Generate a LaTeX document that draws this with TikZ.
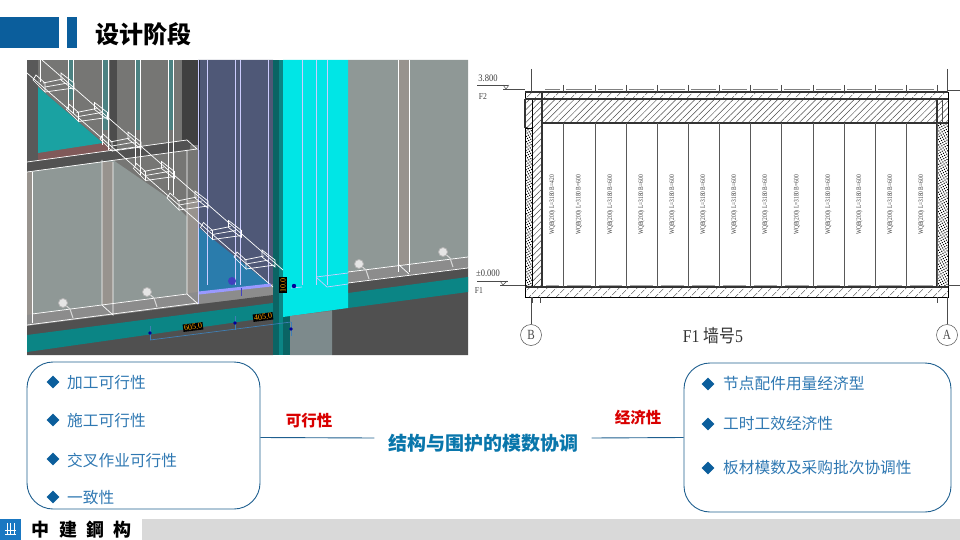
\documentclass[tikz,border=0pt]{standalone}
\usepackage{fontspec}
\setmainfont{Liberation Serif}
\newfontfamily\cjk{Noto Sans CJK SC}
\usetikzlibrary{patterns.meta,shapes.geometric}
\definecolor{themeblue}{HTML}{0B5E9C}
\definecolor{itemblue}{HTML}{2F78B2}
\definecolor{boxblue}{HTML}{1F5F8F}
\definecolor{wallgray}{HTML}{767674}
\definecolor{panelgray}{HTML}{8F9896}
\definecolor{stripgray}{HTML}{98938E}
\definecolor{navy}{HTML}{4F5877}
\definecolor{bandteal}{HTML}{0B8585}
\definecolor{floordark}{HTML}{505050}
\definecolor{columncyan}{HTML}{00E6E6}
\definecolor{columnteal}{HTML}{0A6464}
\definecolor{columnfoot}{HTML}{7D8A8C}
\definecolor{triangleblue}{HTML}{2A7CAC}
\definecolor{trianglegreen}{HTML}{1AA2A2}
\definecolor{footblue}{HTML}{1A78C2}
\definecolor{dimblue}{HTML}{3F7FB5}
\tikzset{
	titlefont/.style={font=\cjk\bfseries\fontsize{24}{24}\selectfont},
	listbox/.style={draw=boxblue, line width=0.9pt, rounded corners=26pt, inner sep=0pt},
	itemtext/.style={anchor=west, inner sep=0pt, text=itemblue, font=\cjk\fontsize{15.7}{16}\selectfont},
	itemmark/.style={diamond, fill=themeblue, minimum size=13pt, inner sep=0pt},
	redlabel/.style={inner sep=0pt, text=red!85!black, font=\cjk\bfseries\fontsize{15.5}{16}\selectfont},
	link/.style={draw=boxblue, line width=0.9pt},
	panelline/.style={draw=white, line width=0.7pt},
	sideline/.style={draw=white!80!blue, line width=0.7pt},
	dimtag/.style={fill=black, text=orange!70!yellow, inner sep=1pt, font=\fontsize{8}{8}\selectfont},
	cadline/.style={draw=black!80, line width=1.5pt},
	cadthin/.style={draw=black!70, line width=0.5pt},
	cadtext/.style={inner sep=0pt, text=black!75, font=\fontsize{9}{9}\selectfont},
	wallhatch/.style={pattern={Lines[angle=45,distance=4.5pt,line width=0.5pt]}, pattern color=black!70},
	slabhatch/.style={pattern={Lines[angle=45,distance=6.5pt,line width=0.5pt]}, pattern color=black!70},
	concrete/.style={pattern={Dots[radius=0.75pt,distance=2.4pt,angle=30]}, pattern color=black},
}
% one bracket on the diagonal slab
\def\slabbracket(#1,#2){
	\begin{scope}[shift={(#1,#2)}]
		\draw[panelline] (0, 7) -- (3, 2) -- (12, 10) -- (12, 19) -- cycle;
		\draw[panelline] (28, 0) -- (41, 10) -- (41, 17) -- (28, 7) -- cycle;
		\draw[panelline] (10, 10) -- (30, 6);
		\draw[panelline] (12, 14) -- (35, 10);
		\draw[panelline] (12, 19) -- (41, 15);
	\end{scope}
}
% one knob on the wall
\def\wallknob(#1,#2){
	\draw[draw=white!85!black, line width=1pt] (#1, #2) -- (#1+7, #2+6) -- (#1+10, #2+15);
	\draw[draw=white!70!black, fill=white!90!black, line width=0.8pt] (#1, #2) circle (4.5);
}

\begin{document}
\begin{tikzpicture}[x=1pt, y=-1pt]
		\useasboundingbox (0, 0) rectangle (960, 540);
		
		%%%%% HEADER %%%%%
		
		\fill[themeblue] (0, 17) rectangle (59, 48);
		\fill[themeblue] (67, 17) rectangle (77, 48);
		\node[titlefont, anchor=west, inner sep=0pt] (title) at (95, 34) {设计阶段};
		
		%%%%% MODEL VIEW %%%%%
		
		\begin{scope}
			\clip (27, 60) rectangle (468, 355);
			\fill[wallgray] (27, 60) rectangle (468, 355);
			\fill[black!65] (27, 60) rectangle (38, 165);
			\fill[black!70] (110, 60) rectangle (117, 150);
			\fill[black!75] (182, 60) rectangle (198, 145);
			\fill[teal!60!black!70] (68, 60) rectangle (73, 100);
			\fill[teal!60!black!70] (102, 60) rectangle (108, 130);
			\fill[teal!60!black!70] (135, 60) rectangle (140, 130);
			\fill[teal!60!black!70] (168, 60) rectangle (173, 130);
			
			% teal triangle
			\fill[black!50!red!30!gray] (38, 87) -- (112, 150) -- (38, 162) -- cycle;
			\fill[trianglegreen] (38, 87) -- (103, 143) -- (38, 153) -- cycle;
			
			% dark band and panels below it
			\fill[black!68] (27, 162) -- (190, 140) -- (190, 150) -- (27, 172) -- cycle;
			\fill[panelgray] (27, 172) -- (113, 160) -- (167, 197) -- (187, 217) -- (187, 300) -- (27, 320) -- cycle;
			\fill[stripgray] (102, 162) rectangle (113, 312);
			\fill[stripgray] (187, 200) rectangle (198, 304);
			\fill[stripgray] (27, 172) rectangle (32, 322);
			
			% navy panel and blue triangle
			\fill[navy] (198, 60) -- (273, 60) -- (273, 290) -- (198, 230) -- cycle;
			\fill[black!50!navy] (198, 60) rectangle (200, 150);
			\fill[triangleblue] (199, 228) -- (273, 287) -- (199, 294) -- cycle;
			
			% sill, band and floor
			\fill[black!45] (27, 315) -- (198, 292) -- (273, 284) -- (273, 296) -- (198, 304) -- (27, 326) -- cycle;
			\fill[floordark] (27, 326) -- (273, 295) -- (273, 355) -- (27, 355) -- cycle;
			\fill[bandteal] (27, 335) -- (273, 303) -- (273, 317) -- (27, 352) -- cycle;
			\fill[black!45] (348, 272) -- (468, 257) -- (468, 268) -- (348, 283) -- cycle;
			\fill[panelgray] (348, 60) -- (468, 60) -- (468, 257) -- (348, 272) -- cycle;
			\fill[stripgray] (398, 60) rectangle (409, 265);
			\fill[floordark] (348, 283) -- (468, 268) -- (468, 355) -- (332, 355) -- (332, 300) -- cycle;
			\fill[bandteal] (348, 293) -- (468, 277) -- (468, 292) -- (348, 308) -- cycle;
			
			% cyan column
			\fill[columnteal] (273, 60) rectangle (290, 355);
			\fill[bandteal] (279, 60) rectangle (283, 355);
			\fill[columncyan] (283, 60) -- (348, 60) -- (348, 308) -- (283, 317) -- cycle;
			\fill[columnfoot] (290, 316) -- (332, 311) -- (332, 355) -- (290, 355) -- cycle;
			
			% white edges
			\foreach \xpos/\yend in {68/110, 73/113, 102/145, 108/150, 135/165, 140/175, 168/190, 173/195}
				\draw[panelline] (\xpos, 60) -- (\xpos, \yend);
			\foreach \xpos in {207, 235, 240, 268, 302, 316, 327}
				\draw[sideline] (\xpos, 60) -- (\xpos, 285);
			\foreach \xpos in {398, 409}
				\draw[panelline] (\xpos, 60) -- (\xpos, 272);
			\draw[sideline] (198, 60) -- (198, 304);
			\draw[panelline] (40, 60) -- (40, 82);
			\draw[panelline] (32, 172) -- (32, 323);
			\draw[panelline] (102, 160) -- (102, 305) -- (113, 315) -- (113, 162);
			\draw[panelline] (187, 150) -- (187, 294) -- (198, 304);
			\draw[panelline] (27, 162) -- (187, 140) -- (197, 149) -- (27, 172);
			\draw[panelline] (42, 60) -- (283, 270);
			\draw[panelline] (27, 73) -- (273, 287);
			\draw[panelline] (32, 314) -- (187, 294);
			\draw[panelline] (27, 325) -- (198, 303);
			\draw[panelline] (348, 272) -- (468, 257);
			\draw[panelline] (348, 283) -- (468, 268);
			\draw[panelline] (398, 264) -- (409, 274);
			\draw[sideline] (316, 277) -- (327, 287) -- (348, 284);
			\draw[sideline] (316, 277) -- (348, 273);
			\draw[sideline] (302, 287) -- (291, 288);
			\foreach \k in {0, ..., 6} {
				\slabbracket(33+33.5*\k, 73+29.5*\k)
			}
			
			% lavender stripe and knobs
			\draw[draw=blue!40!white, line width=3pt] (199, 293) -- (271, 285);
			\fill[blue!50!gray] (232, 281) circle (4);
			\draw[draw=blue!50!gray, line width=1pt] (241, 288) -- (241, 296);
			\wallknob(63, 303)
			\wallknob(147, 292)
			\wallknob(359, 264)
			\wallknob(443, 252)
			
			% dimensions
			\draw[draw=dimblue, line width=0.7pt] (150, 340) -- (291, 322);
			\foreach \xpos/\ypos in {150/333, 235/323, 291/329} {
				\draw[draw=dimblue, line width=0.7pt] (\xpos, \ypos-7) -- (\xpos, \ypos+7);
				\fill[blue!60!black] (\xpos, \ypos) circle (1.8);
			}
			\fill[blue!60!black] (294, 286) circle (2.2);
			\node[dimtag, rotate=7] (dimleft) at (193, 327) {605.0};
			\node[dimtag, rotate=7] (dimright) at (263, 317) {405.0};
			\node[dimtag, rotate=90] (dimup) at (283, 285) {10.0};
		\end{scope}
		
		%%%%% WALL DRAWING %%%%%
		
		% hatched slabs and columns
		\fill[white] (524, 92) rectangle (949, 297);
		\draw[wallhatch] (542, 99) rectangle (937, 123);
		\draw[slabhatch] (525, 92) rectangle (948, 99);
		\draw[slabhatch] (525, 287) rectangle (948, 297);
		\draw[wallhatch] (532, 99) rectangle (542, 287);
		\draw[wallhatch] (525, 99) rectangle (532, 128);
		\draw[concrete] (525, 128) rectangle (532, 287);
		\draw[wallhatch] (937, 99) rectangle (948, 123);
		\draw[concrete] (937, 123) rectangle (948, 287);
		
		\draw[cadline] (525, 99) -- (948, 99);
		\draw[cadline] (542, 123) -- (948, 123);
		\draw[cadline] (525, 287) -- (948, 287);
		\draw[cadline] (525, 92) -- (948, 92);
		\draw[cadline] (542, 92) -- (542, 287);
		\draw[cadline] (937, 99) -- (937, 287);
		\draw[cadline] (525, 99) -- (525, 128);
		\draw[cadthin] (942, 99) -- (942, 123);
		
		% panels
		\foreach \xpos/\nextpos [count=\i] in {542/563, 563/595, 595/626, 626/657, 657/688, 688/719, 719/750, 750/781, 781/813, 813/844, 844/875, 875/906, 906/937} {
			\draw[draw=black!65, line width=0.9pt] (\nextpos, 123) -- (\nextpos, 287);
			\draw[draw=black!70, line width=0.6pt] (\nextpos, 85) -- (\nextpos, 92);
			\draw[draw=black!50, line width=0.5pt] (\xpos+3, 89) -- (\nextpos-3, 89);
			\draw[draw=black!35, line width=0.8pt] (\xpos+4, 285) -- (\nextpos-4, 285);
			\ifnum\i=1
				\node[cadtext, rotate=90, font=\fontsize{7}{7}\selectfont] (panel\i) at ({(\xpos+\nextpos)/2}, 205) {\scalebox{0.78}[1]{WQB(200) L=3180 B=420}};
			\else
				\node[cadtext, rotate=90, font=\fontsize{7}{7}\selectfont] (panel\i) at ({(\xpos+\nextpos)/2}, 205) {\scalebox{0.78}[1]{WQB(200) L=3180 B=600}};
			\fi
		}
		
		% levels
		\node[cadtext, font=\fontsize{10}{10}\selectfont] (leveltop) at (488, 78) {\scalebox{0.85}[1]{3.800}};
		\node[cadtext] (floortop) at (483, 97) {\scalebox{0.85}[1]{F2}};
		\node[cadtext, font=\fontsize{10}{10}\selectfont] (levelbase) at (488, 273) {\scalebox{0.85}[1]{±0.000}};
		\node[cadtext] (floorbase) at (479, 291) {\scalebox{0.85}[1]{F1}};
		\draw[cadthin] (477, 85) -- (508, 85);
		\draw[cadthin] (503, 85) -- (506, 89) -- (509, 85);
		\draw[cadthin] (503, 89) -- (525, 89);
		\draw[cadthin] (477, 281) -- (508, 281);
		\draw[cadthin] (500, 281) -- (503, 285) -- (507, 281);
		\draw[cadthin] (500, 285) -- (525, 285);
		\draw[cadthin] (948, 90) -- (960, 90);
		\draw[cadthin] (948, 285) -- (960, 285);
		
		% axes
		\node[circle, draw=black!70, line width=0.5pt, minimum size=21pt, inner sep=0pt, font=\fontsize{14}{14}\selectfont, text=black!70] (axisB) at (531, 335) {\scalebox{0.8}[1]{B}};
		\node[circle, draw=black!70, line width=0.5pt, minimum size=21pt, inner sep=0pt, font=\fontsize{14}{14}\selectfont, text=black!70] (axisA) at (947, 335) {\scalebox{0.8}[1]{A}};
		\coordinate (axisBtop) at (531, 69);
		\coordinate (axisAtop) at (947, 69);
		\draw[cadthin] (axisBtop) -- (531, 92);
		\draw[cadthin] (531, 297) -- (axisB);
		\draw[cadthin] (axisAtop) -- (947, 92);
		\draw[cadthin] (947, 297) -- (axisA);
		\draw[cadthin] (532, 297) -- (532, 303);
		\draw[cadthin] (540, 297) -- (540, 303);
		\draw[cadthin] (937, 297) -- (937, 303);
		
		\node[inner sep=0pt, text=black!80, font=\fontsize{18}{18}\selectfont] (walltitle) at (713, 336) {\scalebox{0.88}[1]{F1 {\cjk 墙号}5}};
		
		%%%%% LISTS %%%%%
		
		\node[listbox, minimum width=233pt, minimum height=147pt] (boxleft) at (143.5, 435.5) {};
		\node[listbox, minimum width=267pt, minimum height=149pt] (boxright) at (817.5, 437.5) {};
		
		\foreach \ypos/\itemname [count=\i] in {382/加工可行性, 420/施工可行性, 459/交叉作业可行性, 497/一致性} {
			\node[itemmark] (markleft\i) at (53, \ypos) {};
			\node[itemtext] (itemleft\i) at (67, \ypos+1) {\itemname};
		}
		\foreach \ypos/\itemname [count=\i] in {384/节点配件用量经济型, 424/工时工效经济性, 468/板材模数及采购批次协调性} {
			\node[itemmark] (markright\i) at (708, \ypos) {};
			\node[itemtext] (itemright\i) at (723, \ypos) {\itemname};
		}
		
		\node[inner xsep=13.5pt, inner ysep=0pt, text=themeblue!85!cyan, font=\cjk\bfseries\fontsize{19}{19}\selectfont] (core) at (483, 443) {结构与围护的模数协调};
		\node[redlabel] (feasible) at (309, 421) {可行性};
		\node[redlabel] (economic) at (638, 418) {经济性};
		\draw[link] ([yshift=-2pt]boxleft.east) -- ([yshift=5pt]core.west);
		\draw[link] ([yshift=5pt]core.east) -- (boxright.west);
		
		%%%%% FOOTER %%%%%
		
		\fill[black!15] (142, 519) rectangle (960, 540);
		\fill[footblue] (0, 519) rectangle (21, 540);
		\draw[draw=white, line width=1pt] (5, 534) -- (16, 534);
		\draw[draw=white, line width=1pt] (5, 530) -- (16, 530);
		\draw[draw=white, line width=1pt] (7, 523) -- (7, 534);
		\draw[draw=white, line width=1pt] (10.5, 523) -- (10.5, 534);
		\draw[draw=white, line width=1pt] (14, 523) -- (14, 534);
		\foreach \xpos/\brandchar [count=\i] in {40/中, 68/建, 95/鋼, 122/构}
			\node[inner sep=0pt, font=\cjk\bfseries\fontsize{18}{18}\selectfont] (brand\i) at (\xpos, 530) {\brandchar};
\end{tikzpicture}
\end{document}
